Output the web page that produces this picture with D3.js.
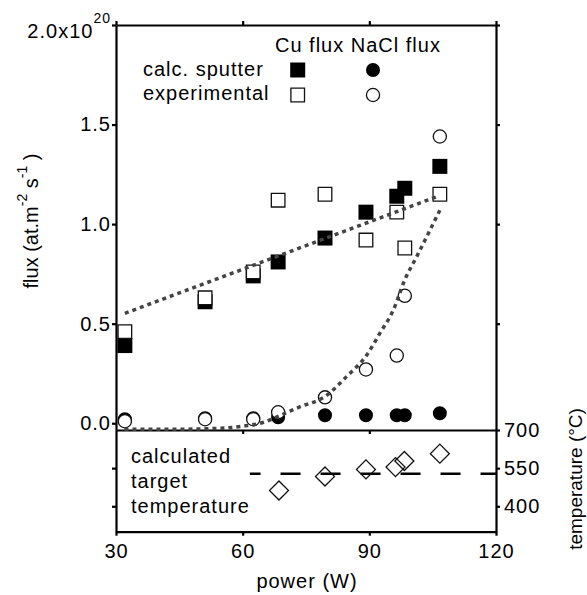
<!DOCTYPE html>
<html>
<head>
<meta charset="utf-8">
<script src="https://cdn.jsdelivr.net/npm/d3@7"></script>
<style>
body { margin: 0; background: #fff; }
svg { font-family: "Liberation Sans", Arial, sans-serif; letter-spacing: 1px; }
.axis path, .axis line { stroke: #000; stroke-width: 2.2; }
.axis text { font-size: 20px; fill: #000; font-family: "Liberation Sans", Arial, sans-serif; }
</style>
</head>
<body>
<svg id="chart" width="587" height="595"></svg>
<script>
// power (W) of each run
var power = [32.1, 51.1, 62.5, 68.4, 79.5, 89.2, 96.5, 98.4, 106.7];
// fluxes in units of 1e20 at. m^-2 s^-1
var cuCalc = [0.39, 0.61, 0.74, 0.81, 0.93, 1.06, 1.14, 1.18, 1.29];
var cuExp = [0.46, 0.63, 0.76, 1.12, 1.15, 0.92, 1.06, 0.88, 1.15];
var naclCalc = [0.02, 0.025, 0.025, 0.03, 0.04, 0.04, 0.04, 0.04, 0.05];
var naclExp = [0.01, 0.02, 0.02, 0.055, 0.13, 0.27, 0.34, 0.64, 1.44];

// dotted guide lines
var cuFitPower = [32.1, 106];
var cuFitFlux = [0.552, 1.138];
var naclFitPower = [32, 45, 55, 60, 65, 69, 73.6, 79.5, 84.6, 89.4, 92.5, 95.7, 98.4, 101.2, 104, 106.7];
var naclFitFlux = [-0.03, -0.03, -0.025, -0.015, 0.005, 0.04, 0.083, 0.134, 0.234, 0.343, 0.452, 0.569, 0.72, 0.836, 0.954, 1.07];

// calculated target temperature (°C)
var tempPower = [68.6, 79.5, 89.2, 96.2, 98.3, 106.7];
var tempValue = [462, 517, 545, 554, 578, 607];
var meltPower = [61.7, 120];
var meltTemp = [528, 528];

var xTicks = [30, 60, 90, 120];
var fluxTicks = [0, 0.5, 1.0, 1.5, 2.0];
var tempTicks = [400, 550, 700];

var svg = d3.select("#chart");

var xScale = d3.scaleLinear().domain([30, 120]).range([116, 496]);
var yScale = d3.scaleLinear().domain([-0.034, 2.0]).range([430, 25]);
var tScale = d3.scaleLinear().domain([300, 700]).range([531.7, 430]);

//axes of the flux panel
svg.append("g").attr("class", "axis")
  .attr("transform", "translate(116,0)")
  .call(d3.axisLeft(yScale).tickValues(fluxTicks).tickSize(4).tickSizeOuter(0).tickPadding(1)
    .tickFormat(function (d) { return d === 2 ? "" : d3.format(".1f")(d); }));

svg.append("g").attr("class", "axis")
  .attr("transform", "translate(496,0)")
  .call(d3.axisRight(yScale).tickValues(fluxTicks.slice(1)).tickSize(4).tickSizeOuter(0).tickFormat(""));

svg.append("g").attr("class", "axis")
  .attr("transform", "translate(0,25)")
  .call(d3.axisTop(xScale).tickValues(xTicks).tickSize(4).tickSizeOuter(0).tickFormat(""));

//separator between the panels, ticks point down
svg.append("g").attr("class", "axis")
  .attr("transform", "translate(0,430)")
  .call(d3.axisBottom(xScale).tickValues(xTicks.slice(1, 3)).tickSize(4).tickSizeOuter(0).tickFormat(""));

//axes of the temperature panel
svg.append("g").attr("class", "axis")
  .attr("transform", "translate(0,531.7)")
  .call(d3.axisBottom(xScale).tickValues(xTicks).tickSize(4).tickSizeOuter(0).tickPadding(8));

svg.append("g").attr("class", "axis")
  .attr("transform", "translate(116,0)")
  .call(d3.axisLeft(tScale).tickValues(tempTicks.slice(0, 2)).tickSize(4).tickSizeOuter(0).tickFormat(""));

svg.append("g").attr("class", "axis")
  .attr("transform", "translate(496,0)")
  .call(d3.axisRight(tScale).tickValues(tempTicks).tickSize(4).tickSizeOuter(0).tickPadding(4));

// 2.0x10^20 label
var topLabel = svg.append("text")
  .attr("x", 111).attr("y", 37.5)
  .attr("text-anchor", "end")
  .style("font-size", "20px");
topLabel.append("tspan").text("2.0x10");
topLabel.append("tspan").attr("dy", -15).style("font-size", "14px").text("20");

// axis titles
var fluxLabel = svg.append("text")
  .attr("transform", "translate(38,221) rotate(-90)")
  .attr("text-anchor", "middle")
  .style("font-size", "20px")
  .style("letter-spacing", "0px");
fluxLabel.append("tspan").text("flux (at.m");
fluxLabel.append("tspan").attr("dy", -11).style("font-size", "14px").text("-2");
fluxLabel.append("tspan").attr("dy", 11).text(" s");
fluxLabel.append("tspan").attr("dy", -11).style("font-size", "14px").text("-1");
fluxLabel.append("tspan").attr("dy", 11).text(" )");

svg.append("text")
  .attr("transform", "translate(582,479) rotate(-90)")
  .attr("text-anchor", "middle")
  .style("font-size", "19px")
  .style("letter-spacing", "0px")
  .text("temperature (°C)");

svg.append("text")
  .attr("x", 307).attr("y", 588)
  .attr("text-anchor", "middle")
  .style("font-size", "20px")
  .text("power (W)");

// legend
svg.append("text").attr("x", 275).attr("y", 51.7).style("font-size", "20px").text("Cu flux NaCl flux");
svg.append("text").attr("x", 143).attr("y", 76).style("font-size", "20px").text("calc. sputter");
svg.append("text").attr("x", 143).attr("y", 100).style("font-size", "20px").text("experimental");

var lab = svg.append("text").attr("x", 131).style("font-size", "20px");
["calculated", "target", "temperature"].forEach(function (s, i) {
  lab.append("tspan").attr("x", 131).attr("y", 463.3 + i * 24.7).text(s);
});

var fillSquare = d3.symbol(d3.symbolSquare, 225);
var openSquare = d3.symbol(d3.symbolSquare, 185);
var fillCircle = d3.symbol(d3.symbolCircle, 154);
var openCircle = d3.symbol(d3.symbolCircle, 136);
var diamond = d3.symbol(d3.symbolSquare, 180);

function marks(xs, ys, sym, fill, ysc, rot) {
  svg.append("g").selectAll("path")
    .data(ys)
    .enter().append("path")
    .attr("d", sym)
    .attr("transform", function (d, i) {
      return "translate(" + xScale(xs[i]) + "," + ysc(d) + ")" + (rot ? " rotate(45)" : "");
    })
    .attr("fill", fill)
    .attr("stroke", fill === "#000" ? "none" : "#111")
    .attr("stroke-width", 1.3);
}

function legendMark(x, y, sym, fill) {
  svg.append("path").attr("d", sym)
    .attr("transform", "translate(" + x + "," + y + ")")
    .attr("fill", fill)
    .attr("stroke", fill === "#000" ? "none" : "#111")
    .attr("stroke-width", 1.3);
}
legendMark(297.7, 70, fillSquare, "#000");
legendMark(373, 70, fillCircle, "#000");
legendMark(297.7, 95, openSquare, "#fff");
legendMark(373, 95, openCircle, "#fff");

marks(power, naclCalc, fillCircle, "#000", yScale);
marks(power, cuCalc, fillSquare, "#000", yScale);
marks(power, naclExp, openCircle, "#fff", yScale);
marks(power, cuExp, openSquare, "#fff", yScale);

// dotted guides
var line = d3.line()
  .x(function (d) { return xScale(d[0]); })
  .y(function (d) { return yScale(d[1]); });

svg.append("path")
  .attr("d", line(d3.zip(cuFitPower, cuFitFlux)))
  .attr("fill", "none").attr("stroke", "#444")
  .attr("stroke-width", 3.5).attr("stroke-dasharray", "4,4");

svg.append("path")
  .attr("d", line.curve(d3.curveMonotoneX)(d3.zip(naclFitPower, naclFitFlux)))
  .attr("fill", "none").attr("stroke", "#444")
  .attr("stroke-width", 3.5).attr("stroke-dasharray", "4,4");

// temperature panel
svg.append("path")
  .attr("d", d3.line()
    .x(function (d) { return xScale(d[0]); })
    .y(function (d) { return tScale(d[1]); })(d3.zip(meltPower, meltTemp)))
  .attr("fill", "none").attr("stroke", "#000")
  .attr("stroke-width", 2.5)
  .attr("stroke-dasharray", "20,20").attr("stroke-dashoffset", 9.3);

marks(tempPower, tempValue, diamond, "none", tScale, true);
</script>
</body>
</html>
